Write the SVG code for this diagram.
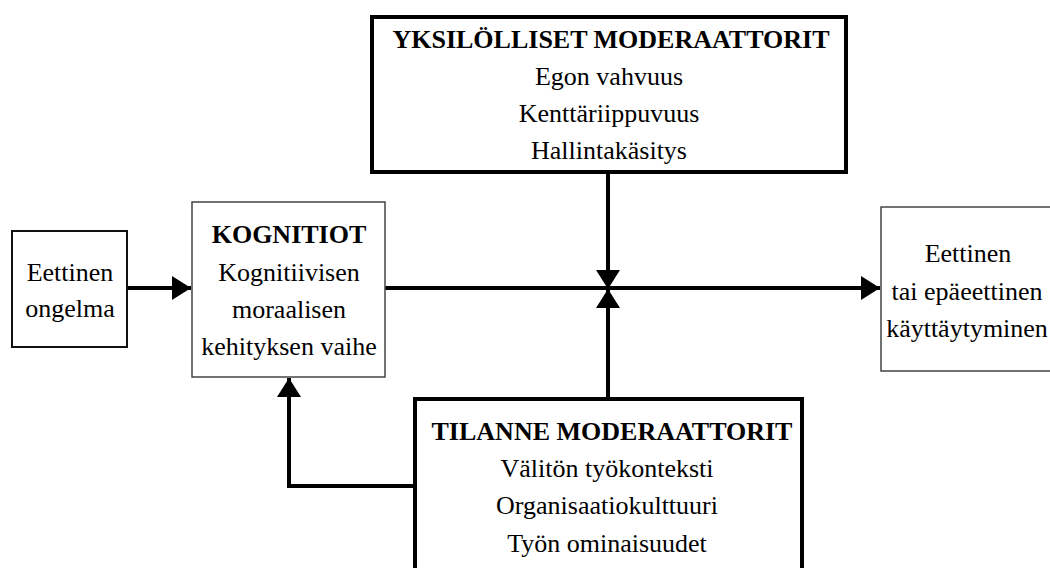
<svg xmlns="http://www.w3.org/2000/svg" width="1050" height="568" viewBox="0 0 1050 568">
  <style>
    .thick { fill: #fff; stroke: #000; stroke-width: 4; }
    .mid { fill: #fff; stroke: #111; stroke-width: 2; }
    .thin { fill: #fff; stroke: #444; stroke-width: 1.5; }
    .conn { fill: none; stroke: #000; stroke-width: 4; }
  </style>
  <defs>
    <marker id="arr" viewBox="0 0 19 24" refX="19" refY="12" markerWidth="19" markerHeight="24" markerUnits="userSpaceOnUse" orient="auto">
      <path d="M0,0 L19,12 L0,24 Z" fill="#000"/>
    </marker>
  </defs>
  <rect width="1050" height="568" fill="#fff"/>

  <g id="connectors">
    <line class="conn" x1="127" y1="288" x2="191" y2="288" marker-end="url(#arr)"/>
    <line class="conn" x1="385" y1="288" x2="880" y2="288" marker-end="url(#arr)"/>
    <line class="conn" x1="608" y1="172" x2="608" y2="289" marker-end="url(#arr)"/>
    <line class="conn" x1="608" y1="399" x2="608" y2="289" marker-end="url(#arr)"/>
    <polyline class="conn" points="415,486 289,486 289,378" marker-end="url(#arr)"/>
  </g>

  <g font-family="Liberation Serif, Times New Roman, serif" font-size="26" fill="#000" text-anchor="middle">
    <g id="ongelma">
      <rect class="mid" x="12" y="231" width="115" height="116"/>
      <text x="70" y="281">Eettinen</text>
      <text x="70" y="317">ongelma</text>
    </g>

    <g id="kognitiot">
      <rect class="thin" x="192" y="202" width="193" height="175"/>
      <text x="289" y="243" font-weight="bold">KOGNITIOT</text>
      <text x="289" y="281">Kognitiivisen</text>
      <text x="289" y="318">moraalisen</text>
      <text x="289" y="355">kehityksen vaihe</text>
    </g>

    <g id="yksilolliset">
      <rect class="thick" x="372" y="17" width="474" height="155"/>
      <text x="611" y="48" font-weight="bold">YKSILÖLLISET MODERAATTORIT</text>
      <text x="609" y="85">Egon vahvuus</text>
      <text x="609" y="122">Kenttäriippuvuus</text>
      <text x="609" y="159">Hallintakäsitys</text>
    </g>

    <g id="tilanne">
      <rect class="thick" x="415" y="399" width="387" height="180"/>
      <text x="612" y="440" font-weight="bold">TILANNE MODERAATTORIT</text>
      <text x="607" y="477">Välitön työkonteksti</text>
      <text x="607" y="514">Organisaatiokulttuuri</text>
      <text x="607" y="552">Työn ominaisuudet</text>
    </g>

    <g id="kayttaytyminen">
      <rect class="thin" x="881" y="207" width="176" height="164"/>
      <text x="968" y="262">Eettinen</text>
      <text x="967" y="300">tai epäeettinen</text>
      <text x="967" y="337">käyttäytyminen</text>
    </g>
  </g>
</svg>
